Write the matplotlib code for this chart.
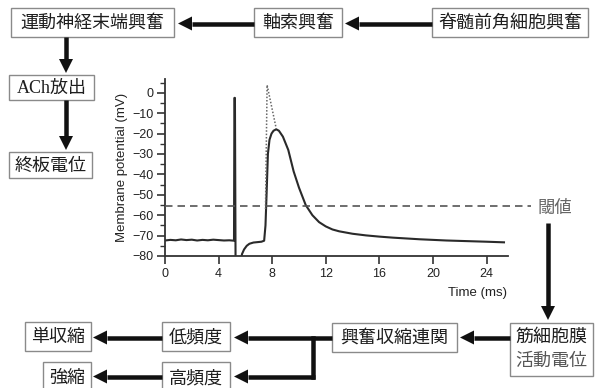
import matplotlib
matplotlib.use("Agg")
import matplotlib.pyplot as plt
from matplotlib.patches import Rectangle, Polygon
from matplotlib.ticker import MultipleLocator
from matplotlib.transforms import blended_transform_factory

# ---------------- data ----------------
time_ms = [0.0, 0.4, 0.8, 1.2, 1.6, 2.0, 2.4, 2.8, 3.2, 3.6, 4.0, 4.4, 4.8, 5.15,
           5.18, 5.22, 5.27, 5.35,
           5.6, 5.75, 5.9, 6.1, 6.3, 6.6, 6.9, 7.2, 7.4, 7.5, 7.58, 7.68, 7.8, 7.95,
           8.1, 8.3, 8.5, 8.8, 9.2, 9.6, 10.0, 10.5, 11.0, 11.5, 12.0, 12.5, 13.0,
           14.0, 15.0, 16.0, 17.0, 18.0, 19.0, 20.0, 21.0, 22.0, 23.0, 24.0, 25.3]
voltage_mv = [-72.4, -72.1, -72.3, -71.9, -72.2, -72.0, -72.4, -72.1, -72.3, -72.0, -72.2, -72.4, -72.3, -72.5,
              -2.5, -2.5, -90.0, -95.0,
              -84.0, -79.0, -76.8, -75.0, -74.0, -73.4, -73.2, -73.0, -72.5, -65.0, -50.0, -30.0, -23.0, -20.0,
              -18.6, -17.9, -18.6, -21.5, -28.0, -38.5, -46.5, -55.0, -60.0, -63.4, -65.5, -67.0, -67.9,
              -69.1, -69.9, -70.5, -71.0, -71.4, -71.8, -72.1, -72.4, -72.6, -72.8, -73.0, -73.3]
dotted_time_ms = [7.5, 7.62, 8.3]
dotted_voltage_mv = [-57.0, 3.8, -17.5]
threshold_mv = -55.5

x_ticks = [0, 4, 8, 12, 16, 20, 24]
y_ticks = [0, -10, -20, -30, -40, -50, -60, -70, -80]

boxes = {
    "運動神経末端興奮": (11, 174, 8, 37),
    "軸索興奮": (254, 342, 8, 37),
    "脊髄前角細胞興奮": (432, 588, 8, 37),
    "ACh放出": (9, 94, 75, 100),
    "終板電位": (9, 92, 152, 178),
    "単収縮": (25, 91, 322, 351),
    "低頻度": (162, 230, 322, 351),
    "興奮収縮連関": (332, 457, 323, 352),
    "強縮": (43, 91, 362, 393),
    "高頻度": (162, 230, 362, 393),
}

# ---------------- figure ----------------
W, H = 595, 388
fig = plt.figure(figsize=(W / 100, H / 100), dpi=100)
fig.patch.set_facecolor("white")

# chart axes (pixel layout)
ax_l, ax_r, ax_t, ax_b = 165, 508, 78.5, 256
ax = fig.add_axes([ax_l / W, (H - ax_b) / H, (ax_r - ax_l) / W, (ax_b - ax_t) / H])
ax.set_xlim(0, 25.6)
ax.set_ylim(-80, 7)
ax.patch.set_visible(False)
for s in ["top", "right"]:
    ax.spines[s].set_visible(False)
for s in ["left", "bottom"]:
    ax.spines[s].set_linewidth(1.3)
    ax.spines[s].set_color("#333333")
ax.set_xticks(x_ticks)
ax.set_yticks(y_ticks)
ax.yaxis.set_minor_locator(MultipleLocator(5))
ax.tick_params(axis="both", which="major", direction="out", length=5.5, width=1.2,
               color="#333333", labelsize=9, labelcolor="#222222", pad=3)
ax.tick_params(axis="y", which="minor", direction="out", length=3.5, width=1.0, color="#333333")
for lab in ax.get_xticklabels() + ax.get_yticklabels():
    lab.set_family("Liberation Sans")
ax.set_ylabel("Membrane potential (mV)", family="Liberation Sans", fontsize=9.5,
              color="#222222", labelpad=3)

ax.plot(time_ms, voltage_mv, color="#2a2a2a", lw=1.5, solid_joinstyle="round")
ax.plot(dotted_time_ms, dotted_voltage_mv, color="#666666", lw=1.1, ls=(0, (1, 1.2)))

# overlay axes in pixel coordinates
ov = fig.add_axes([0, 0, 1, 1])
ov.set_xlim(0, W)
ov.set_ylim(H, 0)
ov.axis("off")
ov.patch.set_visible(False)

# threshold dashed line (x in pixels, y in mV)
bt = blended_transform_factory(ov.transData, ax.transData)
ov.plot([ax_l, 531], [threshold_mv, threshold_mv], transform=bt, color="#555555",
        lw=1.2, ls=(0, (4.5, 3)), clip_on=False)
ov.text(555, 208, "閾値", family=["Noto Sans CJK JP"], fontsize=12.5, color="#666666",
        ha="center", va="center")

ov.text(478, 293, "Time (ms)", family="Liberation Sans", fontsize=9.5, color="#222222",
        ha="center", va="center")

# boxes
for label, (x0, x1, y0, y1) in boxes.items():
    ov.add_patch(Rectangle((x0, y0), x1 - x0, y1 - y0, fill=True, facecolor="white",
                           edgecolor="#8a8a8a", lw=1.0, clip_on=False))
    fam = ["Liberation Serif", "Noto Sans CJK JP"] if label.startswith("ACh") else ["Noto Sans CJK JP"]
    ov.text((x0 + x1) / 2, (y0 + y1) / 2 + 0.5, label, family=fam, fontsize=13,
            color="#1e1e1e", ha="center", va="center")

# two-line box
ov.add_patch(Rectangle((510, 323), 83, 53, facecolor="white", edgecolor="#8a8a8a", lw=1.0))
ov.text(551.5, 337, "筋細胞膜", family=["Noto Sans CJK JP"], fontsize=13, color="#1e1e1e",
        ha="center", va="center")
ov.text(551.5, 361, "活動電位", family=["Noto Sans CJK JP"], fontsize=13, color="#555555",
        ha="center", va="center")

LW = 4.5  # pixels
lw_pt = LW * 72 / 100
HL, HW = 14, 14


def arrow(x0, y0, x1, y1):
    # line from (x0,y0) to head base, then triangle head at (x1,y1)
    if y0 == y1:
        d = 1 if x1 > x0 else -1
        bx = x1 - d * HL
        ov.plot([x0, bx], [y0, y0], color="#111111", lw=lw_pt, solid_capstyle="butt")
        ov.add_patch(Polygon([(x1, y1), (bx, y1 - HW / 2), (bx, y1 + HW / 2)],
                             closed=True, color="#111111", lw=0))
    else:
        d = 1 if y1 > y0 else -1
        by = y1 - d * HL
        ov.plot([x0, x0], [y0, by], color="#111111", lw=lw_pt, solid_capstyle="butt")
        ov.add_patch(Polygon([(x1, y1), (x1 - HW / 2, by), (x1 + HW / 2, by)],
                             closed=True, color="#111111", lw=0))


arrow(432, 23.5, 345, 23.5)
arrow(254, 23.5, 178, 23.5)
arrow(66, 37, 66, 73)
arrow(66, 100, 66, 150)
arrow(548, 223, 548, 320)
arrow(510, 337.5, 460, 337.5)
arrow(332, 337.5, 234, 337.5)
ov.plot([313, 313], [337.5, 376.5], color="#111111", lw=lw_pt, solid_capstyle="projecting")
arrow(315, 376.5, 234, 376.5)
arrow(162, 337.5, 93, 337.5)
arrow(162, 376.5, 93, 376.5)

fig.savefig("out.png", dpi=100)
